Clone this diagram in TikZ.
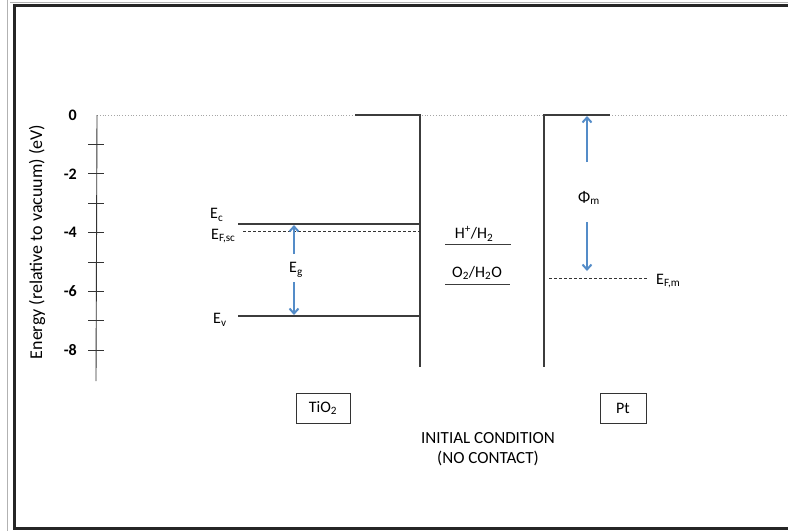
\documentclass[tikz,border=0pt]{standalone}
\usepackage{fontspec}
\setmainfont{Carlito}
\usetikzlibrary{arrows.meta}
\definecolor{arrblue}{RGB}{84,140,200}
\definecolor{lvl}{RGB}{60,60,60}
\tikzset{
  level/.style={draw=lvl, line width=1.3pt},
  dlevel/.style={draw=black!80, line width=0.9pt, dash pattern=on 3pt off 2pt},
  barrow/.style={draw=arrblue, line width=2pt, -{Straight Barb[length=5pt,width=9pt]}},
  lbl/.style={inner sep=0pt, font=\fontsize{16}{18}\selectfont},
  tick/.style={draw=black!80, line width=0.9pt},
  box/.style={draw=black!80, line width=0.9pt, minimum width=54pt, minimum height=30pt, inner sep=0pt, font=\fontsize{16}{18}\selectfont}
}
\begin{document}
\begin{tikzpicture}[x=1pt,y=-1pt]
\useasboundingbox (0,0) rectangle (788,531);
% frame
\draw[gray!60, line width=0.8pt] (7,0) -- (7,531);
\draw[gray!60, line width=0.8pt] (10,2) -- (788,2);
\draw[black!85, line width=3pt] (788,5.5) -- (14,5.5) -- (14,528.5) -- (788,528.5);
% vacuum level
\draw[gray!70, line width=0.8pt, dotted] (97,115) -- (788,115);
% axis
\coordinate (atop) at (97,115);
\coordinate (abot) at (96,381);
\draw[tick] (atop) -- (abot);
\foreach \v in {1,...,8} {
  \draw[tick] (88,115+29.4*\v) -- (104,115+29.4*\v);
}
\foreach \v/\t in {0/0,2/-2,4/-4,6/-6,8/-8} {
  \node[lbl, anchor=east] (t\v) at (77,115+29.4*\v) {\textbf{\t}};
}
\node[lbl, rotate=90, font=\fontsize{18}{20}\selectfont] (ylab) at (37,242) {Energy (relative to vacuum) (eV)};
% TiO2
\coordinate (tvt) at (420,115);
\coordinate (tvb) at (420,367);
\coordinate (ttl) at (355,115);
\draw[level] (ttl) -- (tvt) -- (tvb);
\coordinate (ecl) at (238,224);
\coordinate (ecr) at (420,224);
\draw[level] (ecl) -- (ecr);
\coordinate (efl) at (243,231);
\coordinate (efr) at (420,231);
\draw[dlevel] (efl) -- (efr);
\coordinate (evl) at (238,316);
\coordinate (evr) at (420,316);
\draw[level] (evl) -- (evr);
\node[lbl, anchor=west] (ec) at (210,215) {E\textsubscript{c}};
\node[lbl, anchor=west] (efsc) at (211,236) {E\textsubscript{F,sc}};
\node[lbl, anchor=west] (ev) at (213,320) {E\textsubscript{v}};
\node[lbl, anchor=west] (eg) at (289,270) {E\textsubscript{g}};
\coordinate (eu1) at (294,254);
\coordinate (eu2) at (294,225);
\coordinate (ed1) at (294,282);
\coordinate (ed2) at (294,315);
\draw[barrow] (eu1) -- (eu2);
\draw[barrow] (ed1) -- (ed2);
% redox levels
\coordinate (hl) at (445,244);
\coordinate (hr) at (511,244);
\draw[level, line width=1pt] (hl) -- (hr);
\node[lbl] (hh) at (474,234) {H\textsuperscript{+}/H\textsubscript{2}};
\coordinate (ol) at (445,284);
\coordinate (or) at (510,284);
\draw[level, line width=1pt] (ol) -- (or);
\node[lbl] (oh) at (477,273) {O\textsubscript{2}/H\textsubscript{2}O};
% Pt
\coordinate (pvt) at (544,115);
\coordinate (pvb) at (544,367);
\coordinate (ptr) at (610,115);
\draw[level] (ptr) -- (pvt) -- (pvb);
\coordinate (efml) at (549,278);
\coordinate (efmr) at (648,278);
\draw[dlevel] (efml) -- (efmr);
\node[lbl, anchor=west] (efm) at (656,281) {E\textsubscript{F,m}};
\node[lbl] (phi) at (589,198) {Φ\textsubscript{m}};
\coordinate (pu1) at (587,162);
\coordinate (pu2) at (587,116);
\coordinate (pd1) at (587,222);
\coordinate (pd2) at (587,271);
\draw[barrow] (pu1) -- (pu2);
\draw[barrow] (pd1) -- (pd2);
% boxes
\node[box] (tio2) at (323,408) {TiO\textsubscript{2}};
\node[box, minimum width=46pt] (pt) at (623,408) {Pt};
\node[lbl, align=center, font=\fontsize{17}{20}\selectfont] (cond) at (488,449) {INITIAL CONDITION\\(NO CONTACT)};
\end{tikzpicture}
\end{document}
